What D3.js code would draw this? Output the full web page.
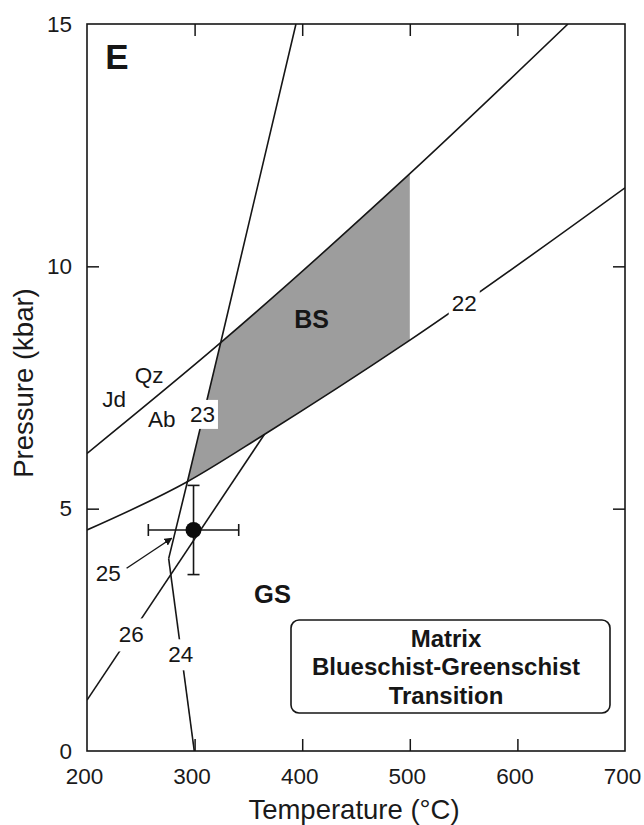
<!DOCTYPE html>
<html>
<head>
<meta charset="utf-8">
<script src="https://cdn.jsdelivr.net/npm/d3@7"></script>
<style>
  html, body { margin: 0; padding: 0; background: #fff; }
  svg { display: block; font-family: "Liberation Sans", Arial, Helvetica, sans-serif; }
</style>
</head>
<body>
<svg id="chart" width="644" height="825"></svg>
<script>
// ---------------- data ----------------
const tempTicks = [200, 300, 400, 500, 600, 700];
const pressTicks = [0, 5, 10, 15];
const tempDomain = [200, 700];
const pressDomain = [0, 15];

// reaction curves [T (°C), P (kbar)]
const curveJdQzAb = [[200, 6.14], [324.5, 8.43], [497, 11.85], [647, 15]];
const curve22 = [[200, 4.56], [293.6, 5.56], [364.8, 6.53], [497, 8.43], [700, 11.62]];
const curve23 = [[275.9, 3.97], [293.6, 5.58], [324.5, 8.45], [394.2, 15]];
const curve24 = [[275.9, 3.97], [299.7, 0]];
const curve26 = [[200, 1.05], [364.8, 6.53]];
const arrow25 = [[236.8, 3.77], [278.7, 4.39]];
const shadeMaxT = 500;

// estimated P-T point with uncertainties
const sampleT = 299, sampleP = 4.56, sampleErrT = 42, sampleErrP = 0.92;

const legendLines = ["Matrix", "Blueschist-Greenschist", "Transition"];

// ---------------- chart ----------------
const svg = d3.select("#chart");
const x = d3.scaleLinear().domain(tempDomain).range([87, 625]);
const y = d3.scaleLinear().domain(pressDomain).range([751, 24]);
const ink = "#161616";

const defs = svg.append("defs");
defs.append("clipPath").attr("id", "plotClip")
  .append("rect").attr("x", x(200)).attr("y", y(15))
  .attr("width", x(700) - x(200)).attr("height", y(0) - y(15));

const line = d3.line().x(d => x(d[0])).y(d => y(d[1]));
const smooth = d3.line().x(d => x(d[0])).y(d => y(d[1])).curve(d3.curveMonotoneX);
const areaUnder = d3.area().x(d => x(d[0])).y0(y(0)).y1(d => y(d[1])).curve(d3.curveMonotoneX);

// mask: between curve 22 and Jd+Qz=Ab
const mask = defs.append("mask").attr("id", "band");
mask.append("path").attr("d", areaUnder(curveJdQzAb)).attr("fill", "#fff");
mask.append("path").attr("d", areaUnder(curve22)).attr("fill", "#000");

// clip: right of curve 23, left of T=500
const poly = curve23.concat([[shadeMaxT, curve23[curve23.length - 1][1]], [shadeMaxT, curve23[0][1]]]);
defs.append("clipPath").attr("id", "bsClip")
  .append("path").attr("d", line(poly) + "Z");

svg.append("g").attr("clip-path", "url(#bsClip)")
  .append("rect")
  .attr("x", x(200)).attr("y", y(15))
  .attr("width", x(700) - x(200)).attr("height", y(0) - y(15))
  .attr("fill", "#9d9d9d")
  .attr("mask", "url(#band)");

// curves
const gc = svg.append("g").attr("clip-path", "url(#plotClip)")
  .attr("fill", "none").attr("stroke", ink).attr("stroke-width", 1.6);
gc.append("path").attr("d", smooth(curveJdQzAb));
gc.append("path").attr("d", smooth(curve22));
gc.append("path").attr("d", line(curve23));
gc.append("path").attr("d", line(curve24));
gc.append("path").attr("d", line(curve26));

// arrow 25
defs.append("marker").attr("id", "arrowHead")
  .attr("viewBox", "0 0 10 10").attr("refX", 9).attr("refY", 5)
  .attr("markerWidth", 8).attr("markerHeight", 8).attr("markerUnits", "userSpaceOnUse")
  .attr("orient", "auto")
  .append("path").attr("d", "M0,0 L10,5 L0,10 Z").attr("fill", ink);
svg.append("path").attr("d", line(arrow25))
  .attr("fill", "none").attr("stroke", ink).attr("stroke-width", 1.4)
  .attr("marker-end", "url(#arrowHead)");

// error bars
const ge = svg.append("g").attr("stroke", ink).attr("stroke-width", 1.6);
ge.append("line").attr("x1", x(sampleT - sampleErrT)).attr("x2", x(sampleT + sampleErrT))
  .attr("y1", y(sampleP)).attr("y2", y(sampleP));
ge.append("line").attr("x1", x(sampleT)).attr("x2", x(sampleT))
  .attr("y1", y(sampleP - sampleErrP)).attr("y2", y(sampleP + sampleErrP));
[sampleT - sampleErrT, sampleT + sampleErrT].forEach(t => {
  ge.append("line").attr("x1", x(t)).attr("x2", x(t))
    .attr("y1", y(sampleP) - 6).attr("y2", y(sampleP) + 6);
});
[sampleP - sampleErrP, sampleP + sampleErrP].forEach(p => {
  ge.append("line").attr("x1", x(sampleT) - 6).attr("x2", x(sampleT) + 6)
    .attr("y1", y(p)).attr("y2", y(p));
});
svg.append("circle").attr("cx", x(sampleT)).attr("cy", y(sampleP)).attr("r", 8).attr("fill", "#0c0c0c");

// axes
const tick = 12;
const gx = svg.append("g").attr("transform", `translate(0,${y(0)})`)
  .call(d3.axisBottom(x).tickValues(tempTicks).tickSizeInner(-tick).tickSizeOuter(0).tickPadding(17));
const gy = svg.append("g").attr("transform", `translate(${x(200)},0)`)
  .call(d3.axisLeft(y).tickValues(pressTicks).tickSizeInner(-tick).tickSizeOuter(0).tickPadding(15));
const gt = svg.append("g").attr("transform", `translate(0,${y(15)})`)
  .call(d3.axisTop(x).tickValues(tempTicks.slice(1, -1)).tickSizeInner(-tick).tickSizeOuter(0).tickFormat(""));
const gr = svg.append("g").attr("transform", `translate(${x(700)},0)`)
  .call(d3.axisRight(y).tickValues(pressTicks.slice(1, -1)).tickSizeInner(-tick).tickSizeOuter(0).tickFormat(""));
[gx, gy, gt, gr].forEach(g => {
  g.select(".domain").remove();
  g.selectAll(".tick line").attr("stroke", ink).attr("stroke-width", 1.5);
  g.selectAll(".tick text").attr("fill", "#1a1a1a").attr("font-size", 22.5)
    .attr("font-family", "Liberation Sans, Arial, sans-serif");
});
gx.selectAll(".tick text").attr("dx", -3);
gx.selectAll(".tick").filter(d => d === 200 || d === 700).select("line").remove();
gy.selectAll(".tick").filter(d => d === 0 || d === 15).select("line").remove();

// frame
svg.append("rect").attr("x", x(200)).attr("y", y(15))
  .attr("width", x(700) - x(200)).attr("height", y(0) - y(15))
  .attr("fill", "none").attr("stroke", ink).attr("stroke-width", 1.6);

// axis titles
svg.append("text").attr("x", 354).attr("y", 819).attr("text-anchor", "middle")
  .attr("font-size", 27.5).attr("fill", "#1a1a1a").text("Temperature (°C)");
svg.append("text").attr("transform", `translate(33,383) rotate(-90)`).attr("text-anchor", "middle")
  .attr("font-size", 27.5).attr("fill", "#1a1a1a").text("Pressure (kbar)");

// annotations
function label(txt, t, p, size, bold, bg) {
  const tx = svg.append("text").attr("x", x(t)).attr("y", y(p)).attr("text-anchor", "middle")
    .attr("font-size", size).attr("font-weight", bold ? "bold" : "normal")
    .attr("fill", "#161616").text(txt);
  if (bg) {
    const b = tx.node().getBBox();
    svg.insert("rect", () => tx.node())
      .attr("x", b.x - bg[0]).attr("y", b.y - bg[1] + 3)
      .attr("width", b.width + 2 * bg[0]).attr("height", b.height + 2 * bg[1] - 6)
      .attr("fill", "#fff");
  }
  return tx;
}
label("E", 227.9, 14.08, 35, true);
label("BS", 408.8, 8.73, 25, true);
label("GS", 372.4, 3.06, 25.5, true);
label("Jd", 225.3, 7.10, 22.5, false);
label("Qz", 257.8, 7.60, 22.5, false);
label("Ab", 269.4, 6.69, 22.5, false);
label("23", 307.3, 6.79, 22.5, false, [3, 5]);
label("22", 550.6, 9.08, 22.5, false, [3, 3]);
label("25", 219.8, 3.51, 22.5, false);
label("26", 241.1, 2.24, 22.5, false, [2, 7]);
label("24", 287.2, 1.83, 22.5, false, [2, 6]);

// legend box
svg.append("rect").attr("x", 291).attr("y", 620).attr("width", 319).attr("height", 93)
  .attr("rx", 8).attr("fill", "#fff").attr("stroke", ink).attr("stroke-width", 1.6);
legendLines.forEach((s, i) => {
  svg.append("text").attr("x", 446).attr("y", 647 + i * 28.3).attr("text-anchor", "middle")
    .attr("font-size", 24).attr("font-weight", "bold").attr("fill", "#161616").text(s);
});
</script>
</body>
</html>
